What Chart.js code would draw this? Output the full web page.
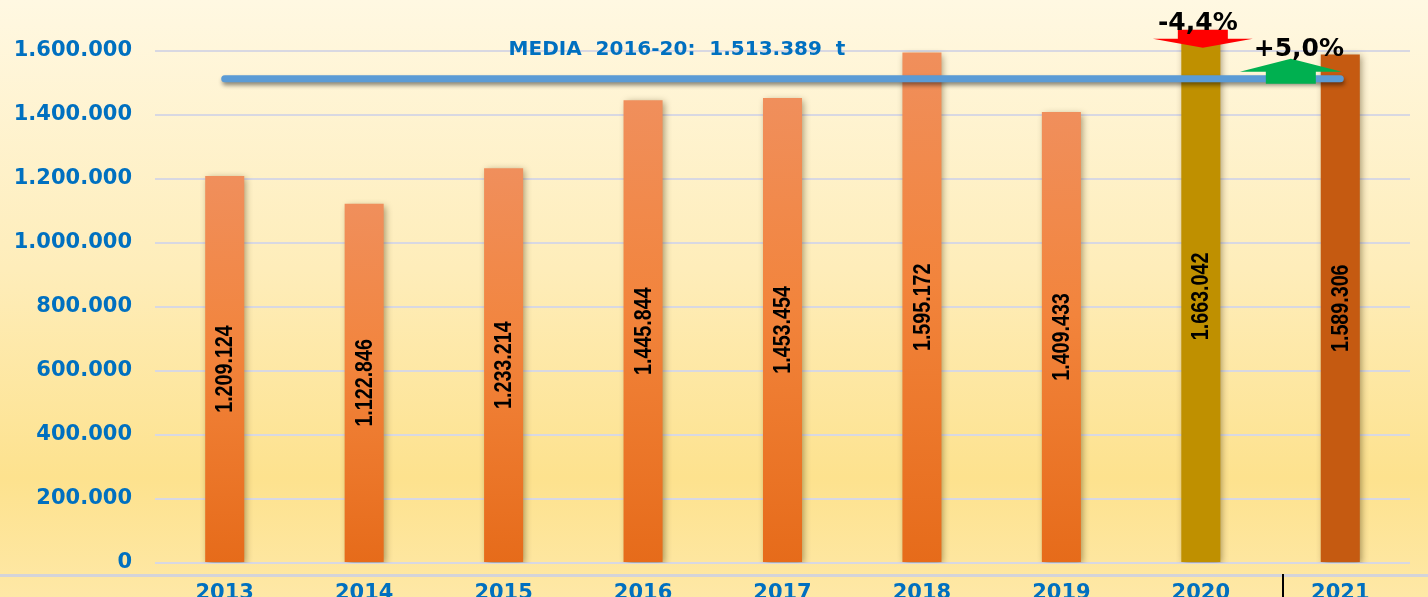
<!DOCTYPE html>
<html>
<head>
<meta charset="utf-8">
<script src="https://cdn.jsdelivr.net/npm/chart.js@4.4.1/dist/chart.umd.min.js"></script>
<style>
  html, body { margin: 0; padding: 0; background: #fef3d0; }
  #wrap { width: 1428px; height: 597px; position: relative; }
</style>
</head>
<body>
<div id="wrap"><canvas id="chart" width="1428" height="597"></canvas></div>
<script>
const years = ['2013', '2014', '2015', '2016', '2017', '2018', '2019', '2020', '2021'];
const tonnes = [1209124, 1122846, 1233214, 1445844, 1453454, 1595172, 1409433, 1663042, 1589306];
const mediaValue = 1513389;
const mediaLine = years.map(() => mediaValue);
const yTicks = [0, 200000, 400000, 600000, 800000, 1000000, 1200000, 1400000, 1600000];

const BLUE = '#0070C0';
const fmt = v => String(Math.round(v)).replace(/\B(?=(\d{3})+(?!\d))/g, '.');
const pct = v => (v > 0 ? '+' : '') + v.toFixed(1).replace('.', ',') + '%';

function barColor(c) {
  if (c.dataIndex === 7) return '#BF9000';
  if (c.dataIndex === 8) return '#C55A11';
  const chart = c.chart, y = chart.scales.y;
  if (!chart.chartArea || !y) return '#F08238';
  const top = y.getPixelForValue(c.raw), bot = y.getPixelForValue(0);
  const g = chart.ctx.createLinearGradient(0, top, 0, bot);
  g.addColorStop(0, '#F08F5C');
  g.addColorStop(0.45, '#F2843C');
  g.addColorStop(1, '#E66B1A');
  return g;
}

const background = {
  id: 'background',
  beforeDraw(chart) {
    const { ctx, width, height } = chart;
    const g = ctx.createLinearGradient(0, 0, 0, height);
    g.addColorStop(0, '#FFF8E2');
    g.addColorStop(0.45, '#FEEDBA');
    g.addColorStop(0.8, '#FDE28E');
    g.addColorStop(1, '#FEE8A6');
    ctx.save();
    ctx.fillStyle = g;
    ctx.fillRect(0, 0, width, height);
    ctx.restore();
  }
};

// soft drop shadows under the bars and the average line
const shadows = {
  id: 'shadows',
  beforeDatasetDraw(chart, args) {
    const ctx = chart.ctx;
    ctx.save();
    if (args.index === 0) {
      ctx.shadowColor = 'rgba(60,40,0,0.45)';
      ctx.shadowBlur = 7;
      ctx.shadowOffsetX = 2;
      ctx.shadowOffsetY = 2;
    } else {
      ctx.shadowColor = 'rgba(0,0,0,0.45)';
      ctx.shadowBlur = 4;
      ctx.shadowOffsetX = 1;
      ctx.shadowOffsetY = 3;
    }
  },
  afterDatasetDraw(chart) { chart.ctx.restore(); }
};

function arrow(ctx, cx, y0, y1, y2, bodyHalf, headHalf, color) {
  // y0: body end, y1: body/head joint, y2: tip
  ctx.fillStyle = color;
  ctx.beginPath();
  ctx.moveTo(cx - bodyHalf, y0);
  ctx.lineTo(cx + bodyHalf, y0);
  ctx.lineTo(cx + bodyHalf, y1);
  ctx.lineTo(cx + headHalf, y1);
  ctx.lineTo(cx, y2);
  ctx.lineTo(cx - headHalf, y1);
  ctx.lineTo(cx - bodyHalf, y1);
  ctx.closePath();
  ctx.fill();
}

const annotations = {
  id: 'annotations',
  afterDatasetsDraw(chart) {
    const { ctx, scales: { x, y } } = chart;
    const bars = chart.getDatasetMeta(0).data;
    ctx.save();

    // values inside the bars (narrowed Liberation Sans ~ Arial Narrow)
    ctx.fillStyle = '#000';
    ctx.font = 'bold 24px "Liberation Sans", Arial, sans-serif';
    ctx.textAlign = 'center';
    ctx.textBaseline = 'middle';
    bars.forEach((b, i) => {
      const mid = (b.y + b.base) / 2;
      ctx.save();
      ctx.translate(b.x + 1, mid);
      ctx.rotate(-Math.PI / 2);
      ctx.scale(0.82, 1);
      ctx.fillText(fmt(tonnes[i]), 0, 0);
      ctx.restore();
    });

    // media label
    ctx.fillStyle = BLUE;
    ctx.font = 'bold 20px "DejaVu Sans", sans-serif';
    ctx.fillText('MEDIA  2016-20:  ' + fmt(mediaValue) + '  t', 677, 50);

    // arrows
    const x20 = x.getPixelForValue(7);
    const top20 = y.getPixelForValue(tonnes[7]);
    arrow(ctx, x20 + 2, top20 - 1, top20 + 8, top20 + 17, 25, 50, '#FF0000');
    const ym = y.getPixelForValue(mediaValue);
    arrow(ctx, x20 + 90, ym + 5, ym - 7, ym - 20, 25, 51, '#00B050');

    ctx.fillStyle = '#000';
    ctx.font = 'bold 25px "DejaVu Sans", sans-serif';
    ctx.fillText(pct((tonnes[8] - tonnes[7]) / tonnes[7] * 100), x20 - 3, top20 - 7);
    ctx.fillText(pct((tonnes[8] - mediaValue) / mediaValue * 100), x20 + 98, ym - 29);
    ctx.restore();
  },
  afterDraw(chart) {
    const { ctx, width, height, chartArea } = chart;
    ctx.save();
    ctx.fillStyle = '#D3D3DA';
    ctx.fillRect(0, chartArea.bottom + 11, width, 3);
    ctx.fillStyle = '#000';
    ctx.fillRect(1282, chartArea.bottom + 11, 2, height - chartArea.bottom - 11);
    ctx.restore();
  }
};

new Chart(document.getElementById('chart'), {
  type: 'bar',
  data: {
    labels: years,
    datasets: [
      {
        type: 'bar',
        data: tonnes,
        backgroundColor: barColor,
        borderWidth: 0,
        categoryPercentage: 1,
        barPercentage: 0.28,
        order: 1
      },
      {
        type: 'line',
        data: mediaLine,
        borderColor: '#5B9BD5',
        borderWidth: 7,
        borderCapStyle: 'round',
        pointRadius: 0,
        fill: false,
        order: 0
      }
    ]
  },
  plugins: [background, shadows, annotations],
  options: {
    responsive: false,
    animation: false,
    layout: { padding: { top: 19, right: 18, left: 0, bottom: 0 } },
    plugins: { legend: { display: false }, tooltip: { enabled: false } },
    scales: {
      x: {
        grid: { display: false },
        border: { display: false },
        ticks: {
          color: BLUE,
          font: { family: '"DejaVu Sans", sans-serif', size: 21, weight: 'bold' },
          padding: 10,
          maxRotation: 0
        },
        afterFit(s) { s.height = 34; s.paddingLeft = 0; s.paddingRight = 0; }
      },
      y: {
        min: 0,
        max: 1700000,
        afterBuildTicks(s) { s.ticks = yTicks.map(v => ({ value: v })); },
        grid: { color: '#D8D8E2', lineWidth: 2, drawTicks: false },
        border: { display: false },
        ticks: {
          color: BLUE,
          font: { family: '"DejaVu Sans", sans-serif', size: 21, weight: 'bold' },
          padding: 23,
          callback: v => fmt(v)
        },
        afterFit(s) { s.width = 155; s.paddingTop = 0; s.paddingBottom = 0; }
      }
    }
  }
});
</script>
</body>
</html>
